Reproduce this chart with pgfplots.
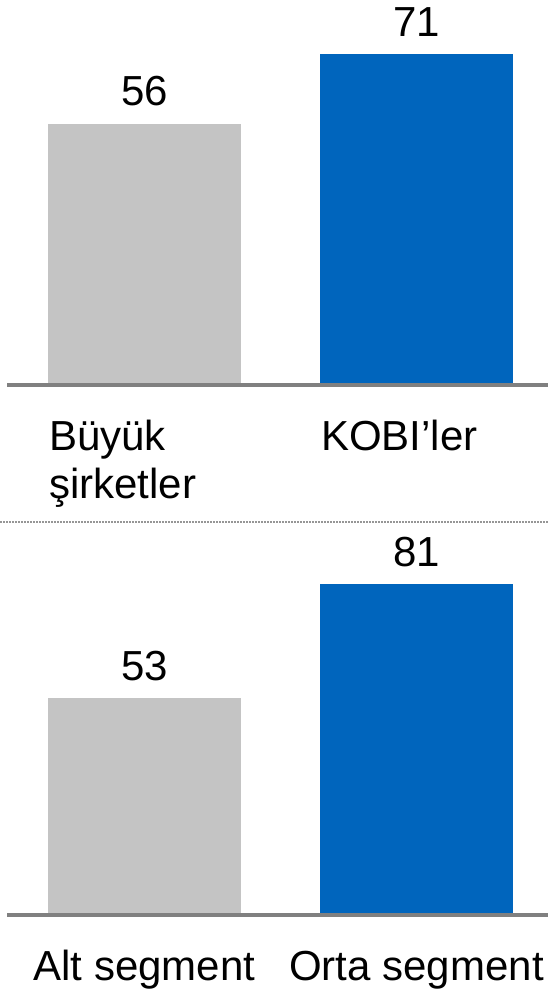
\documentclass[border=0pt]{standalone}
\usepackage{fontspec}
\setmainfont{Liberation Sans}
\usepackage{pgfplots}
\pgfplotsset{compat=1.18}
\definecolor{bargray}{RGB}{196,196,196}
\definecolor{barblue}{RGB}{0,101,189}
\definecolor{linegray}{RGB}{128,128,128}
\definecolor{dotgray}{RGB}{150,150,150}
\newcommand{\bigf}{\fontsize{42}{48}\selectfont}
\pgfplotsset{panel/.style={
  scale only axis, width=548pt, xmin=-0.53125, xmax=1.48346, ymin=0,
  axis y line=none, axis x line*=bottom, x axis line style={draw=none},
  xtick={0,1}, major tick length=0pt, xtick style={draw=none},
  ybar, bar width=193pt, bar shift=0pt, clip=false,
  nodes near coords, /pgf/number format/assume math mode=true,
  every node near coord/.append style={font=\bigf, anchor=south, inner sep=0pt, yshift=17pt},
  anchor=south west,
}}
\begin{document}
\begin{tikzpicture}
\path[use as bounding box] (0pt,0pt) rectangle (548pt,990pt);
% top panel
\begin{axis}[panel, at={(0pt,606.7pt)}, ymax=80, height=371pt,
  xticklabels={Büyük\\şirketler, KOBI’ler\\\strut},
  xticklabel style={font=\bigf, align=left, anchor=base west, inner sep=0pt, xshift=-95.5pt, yshift=-115.7pt}]
\addplot[fill=bargray, draw=none] coordinates {(0,56)};
\addplot[fill=barblue, draw=none] coordinates {(1,71)};
\draw[linegray, line width=4pt] ([yshift=-2pt]rel axis cs:0.0128,0) -- ([yshift=-2pt]rel axis cs:1,0);
\end{axis}
% separator
\draw[dotgray, line width=1.5pt, dash pattern=on 1.5pt off 1.5pt] (0pt,468pt) -- (548pt,468pt);
% bottom panel
\begin{axis}[panel, at={(0pt,77.3pt)}, ymax=90, height=365.2pt,
  xticklabels={Alt segment, Orta segment},
  xticklabel style={font=\bigf, anchor=base, inner sep=0pt, yshift=-67.7pt}]
\addplot[fill=bargray, draw=none] coordinates {(0,53)};
\addplot[fill=barblue, draw=none] coordinates {(1,81)};
\draw[linegray, line width=4pt] ([yshift=-2pt]rel axis cs:0.0128,0) -- ([yshift=-2pt]rel axis cs:1,0);
\end{axis}
\end{tikzpicture}
\end{document}
